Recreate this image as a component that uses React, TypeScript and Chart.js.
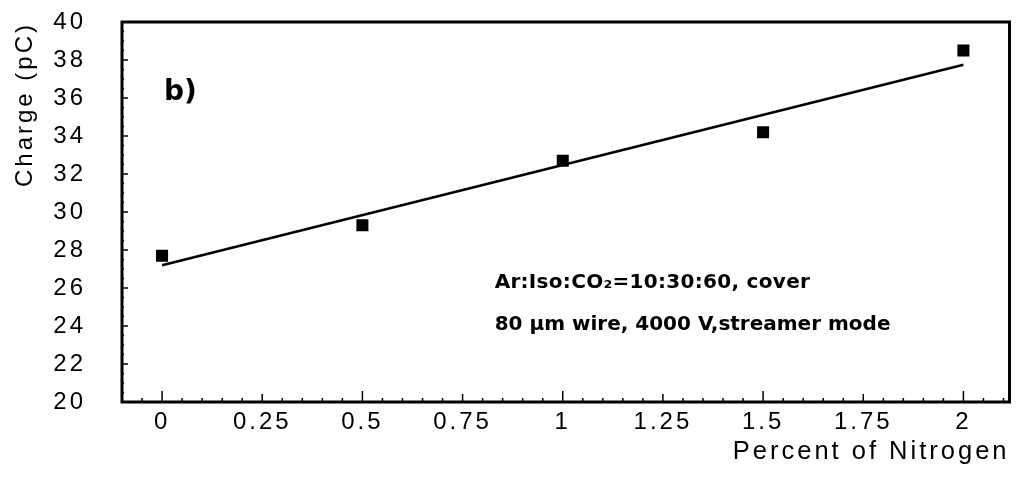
import React, { useEffect, useRef } from "react";
import { Chart, registerables } from "chart.js";

Chart.register(...registerables);

// ---- data ----
const nitrogenPercent = [0, 0.5, 1, 1.5, 2];
const chargePC = [27.7, 29.3, 32.7, 34.2, 38.5];
const fitX = [0, 2];
const fitY = [27.2, 37.75];

const xTickValues = [0, 0.25, 0.5, 0.75, 1, 1.25, 1.5, 1.75, 2];
const xTickLabels = ["0", "0.25", "0.5", "0.75", "1", "1.25", "1.5", "1.75", "2"];
const yTickValues = [20, 22, 24, 26, 28, 30, 32, 34, 36, 38, 40];
const yTickLabels = ["20", "22", "24", "26", "28", "30", "32", "34", "36", "38", "40"];

const xTitle = "Percent of Nitrogen";
const yTitle = "Charge (pC)";
const panelLabel = "b)";
const noteLine1 = "Ar:Iso:CO\u2082=10:30:60, cover";
const noteLine2 = "80 \u03bcm wire, 4000 V,streamer mode";

const AXIS_FONT = "'Liberation Sans', Arial, sans-serif";
const NOTE_FONT = "'DejaVu Sans', sans-serif";

const framePlugin = {
  id: "frameAndTicks",
  beforeDraw(chart: any) {
    chart.ctx.letterSpacing = "3px";
  },
  afterDraw(chart: any) {
    const ctx = chart.ctx;
    const { left, right, top, bottom } = chart.chartArea;
    const xs = chart.scales.x;
    const ys = chart.scales.y;
    ctx.save();
    ctx.letterSpacing = "0px";
    ctx.strokeStyle = "#000";
    // inner ticks on the x axis
    ctx.lineWidth = 1.5;
    for (let i = -2; i <= 42; i++) {
      const v = i * 0.05;
      if (v < xs.min || v > xs.max) continue;
      const px = xs.getPixelForValue(v);
      let len = 4;
      if (i % 10 === 0) len = 11;
      else if (i % 5 === 0) len = 8;
      ctx.beginPath();
      ctx.moveTo(px, bottom);
      ctx.lineTo(px, bottom - len);
      ctx.stroke();
    }
    // inner ticks on the y axis
    for (let i = 0; i <= 40; i++) {
      const v = 20 + i * 0.5;
      const py = ys.getPixelForValue(v);
      let len = 2;
      if (i % 4 === 0) len = 6;
      ctx.beginPath();
      ctx.moveTo(left, py);
      ctx.lineTo(left + len, py);
      ctx.stroke();
    }
    // frame
    ctx.lineWidth = 3;
    ctx.strokeRect(left, top, right - left, bottom - top);

    // annotations
    ctx.fillStyle = "#000";
    ctx.textAlign = "left";
    ctx.textBaseline = "alphabetic";
    ctx.font = `bold 28px ${NOTE_FONT}`;
    ctx.fillText(panelLabel, xs.getPixelForValue(0.005), ys.getPixelForValue(35.9));
    ctx.font = `bold 20px ${NOTE_FONT}`;
    ctx.letterSpacing = "0.3px";
    ctx.fillText(noteLine1, xs.getPixelForValue(0.83), ys.getPixelForValue(25.98));
    ctx.letterSpacing = "0px";
    ctx.fillText(noteLine2, xs.getPixelForValue(0.83), ys.getPixelForValue(23.8));
    ctx.restore();
  },
};

export default function App() {
  const canvasRef = useRef<HTMLCanvasElement | null>(null);

  useEffect(() => {
    document.body.style.margin = "0";
    const canvas = canvasRef.current;
    if (!canvas) return;
    const chart = new Chart(canvas, {
      type: "scatter",
      data: {
        datasets: [
          {
            type: "line",
            label: "fit",
            data: fitX.map((x, i) => ({ x, y: fitY[i] })),
            borderColor: "#000",
            borderWidth: 2.6,
            pointRadius: 0,
            fill: false,
            tension: 0,
          } as any,
          {
            type: "scatter",
            label: "data",
            data: nitrogenPercent.map((x, i) => ({ x, y: chargePC[i] })),
            pointStyle: "rect",
            pointRadius: 8.5,
            backgroundColor: "#000",
            borderColor: "#000",
            borderWidth: 0,
          } as any,
        ],
      },
      options: {
        animation: false,
        responsive: false,
        devicePixelRatio: 1,
        layout: { padding: { top: 22, right: 4, bottom: 0, left: 0 } },
        plugins: {
          legend: { display: false },
          tooltip: { enabled: false },
        },
        scales: {
          x: {
            type: "linear",
            position: "bottom",
            min: -0.1,
            max: 2.115,
            afterBuildTicks: (scale: any) => {
              scale.ticks = xTickValues.map((v) => ({ value: v }));
            },
            afterFit: (scale: any) => {
              scale.height = 76;
              scale.paddingLeft = 0;
              scale.paddingRight = 0;
            },
            grid: { display: false, drawTicks: false },
            border: { display: false },
            ticks: {
              color: "#000",
              padding: 6,
              maxRotation: 0,
              autoSkip: false,
              font: { family: AXIS_FONT, size: 24 },
              callback: (_v: any, i: number) => xTickLabels[i],
            },
            title: {
              display: true,
              text: xTitle,
              align: "end",
              color: "#000",
              font: { family: AXIS_FONT, size: 25.5 },
              padding: { top: 0, bottom: 11 },
            },
          },
          y: {
            type: "linear",
            min: 20,
            max: 40,
            afterBuildTicks: (scale: any) => {
              scale.ticks = yTickValues.map((v) => ({ value: v }));
            },
            afterFit: (scale: any) => {
              scale.width = 122;
              scale.paddingTop = 0;
              scale.paddingBottom = 0;
            },
            grid: { display: false, drawTicks: false },
            border: { display: false },
            ticks: {
              color: "#000",
              padding: 36,
              autoSkip: false,
              font: { family: AXIS_FONT, size: 24 },
              callback: (_v: any, i: number) => yTickLabels[i],
            },
            title: {
              display: true,
              text: yTitle,
              align: "end",
              color: "#000",
              font: { family: AXIS_FONT, size: 24 },
              padding: { top: 11, bottom: 0 },
            },
          },
        },
      } as any,
      plugins: [framePlugin],
    });
    return () => chart.destroy();
  }, []);

  return (
    <div style={{ width: 1018, height: 478, background: "#fff" }}>
      <canvas ref={canvasRef} width={1018} height={478} style={{ display: "block", width: 1018, height: 478 }} />
    </div>
  );
}
